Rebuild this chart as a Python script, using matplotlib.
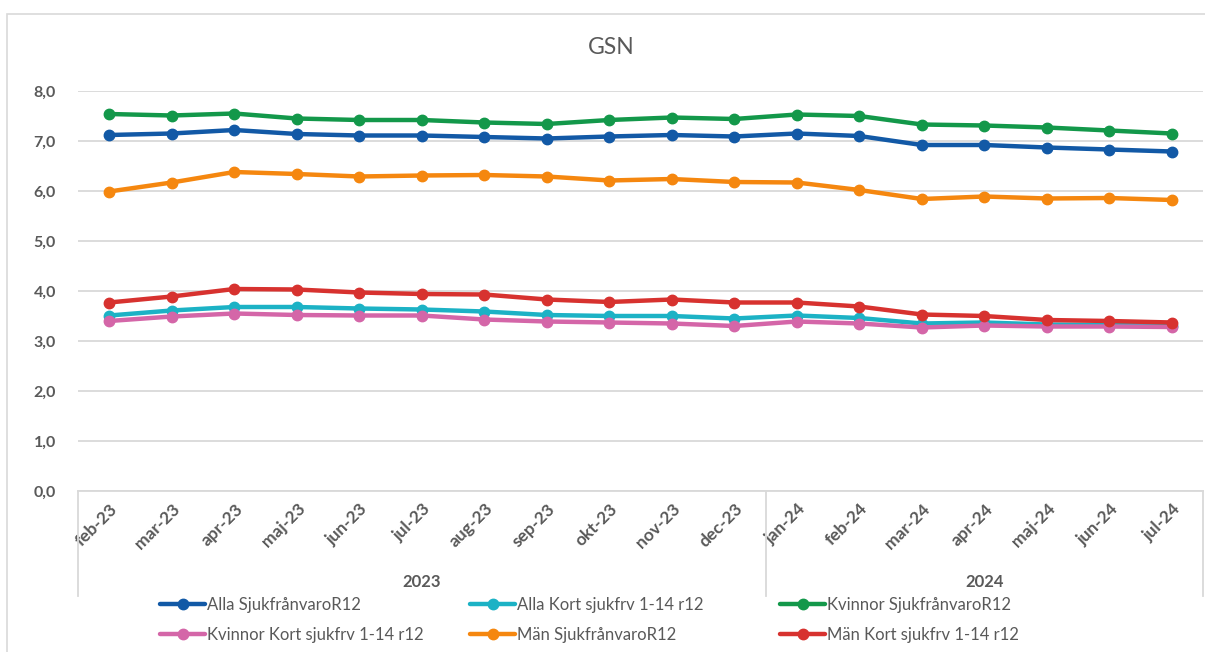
import matplotlib
matplotlib.use("Agg")
import matplotlib.pyplot as plt
import matplotlib.transforms as mtransforms
from matplotlib.patches import Rectangle


months = ["feb-23", "mar-23", "apr-23", "maj-23", "jun-23", "jul-23", "aug-23",
          "sep-23", "okt-23", "nov-23", "dec-23", "jan-24", "feb-24", "mar-24",
          "apr-24", "maj-24", "jun-24", "jul-24"]
years = ["2023", "2024"]
year_counts = [11, 7]

alla_sjuk = [7.12, 7.15, 7.22, 7.14, 7.11, 7.11, 7.08, 7.05, 7.09, 7.12, 7.09,
             7.15, 7.10, 6.92, 6.92, 6.87, 6.83, 6.79]
alla_kort = [3.51, 3.61, 3.68, 3.68, 3.65, 3.63, 3.59, 3.52, 3.50, 3.50, 3.45,
             3.51, 3.46, 3.35, 3.37, 3.33, 3.32, 3.31]
kvinnor_sjuk = [7.54, 7.51, 7.55, 7.45, 7.42, 7.42, 7.37, 7.34, 7.42, 7.47, 7.44,
                7.53, 7.50, 7.33, 7.31, 7.27, 7.21, 7.15]
kvinnor_kort = [3.40, 3.49, 3.55, 3.52, 3.51, 3.51, 3.43, 3.39, 3.37, 3.35, 3.30,
                3.39, 3.35, 3.27, 3.31, 3.29, 3.29, 3.28]
man_sjuk = [5.99, 6.17, 6.38, 6.34, 6.29, 6.31, 6.32, 6.29, 6.21, 6.24, 6.18,
            6.17, 6.02, 5.84, 5.89, 5.85, 5.86, 5.82]
man_kort = [3.77, 3.89, 4.04, 4.03, 3.97, 3.94, 3.93, 3.83, 3.78, 3.83, 3.77,
            3.77, 3.69, 3.53, 3.50, 3.42, 3.40, 3.37]

series = [
    ("Alla SjukfrånvaroR12", alla_sjuk, "#1259a6"),
    ("Alla Kort sjukfrv 1-14 r12", alla_kort, "#1cb2c5"),
    ("Kvinnor SjukfrånvaroR12", kvinnor_sjuk, "#13984a"),
    ("Kvinnor Kort sjukfrv 1-14 r12", kvinnor_kort, "#d466a8"),
    ("Män SjukfrånvaroR12", man_sjuk, "#f5870f"),
    ("Män Kort sjukfrv 1-14 r12", man_kort, "#d7322f"),
]

grey = "#595959"
plt.rcParams["font.family"] = ["Lato", "DejaVu Sans"]

W, H = 1205, 652
fig = plt.figure(figsize=(W / 100, H / 100), dpi=100)
fig.patches.append(Rectangle((7 / W, -0.1), 1.2, 1.1 - 14 / H, transform=fig.transFigure,
                             fill=False, ec="#d9d9d9", lw=1.2))

ax = fig.add_axes([78 / W, (H - 491) / H, 1125 / W, 400 / H])
x = list(range(len(months)))
handles = []
for name, vals, col in series:
    h, = ax.plot(x, vals, color=col, lw=3.2, marker="o", ms=7.5, label=name,
                 solid_capstyle="round")
    handles.append(h)

ax.set_xlim(-0.5, len(months) - 0.5)
ax.set_ylim(0, 8)
ax.set_yticks(range(0, 9))
ax.set_yticklabels(["%d,0" % v for v in range(0, 9)], fontsize=11.5,
                   fontweight="bold", color=grey)
ax.yaxis.grid(True, color="#d9d9d9", lw=1.3)
ax.set_axisbelow(True)
for s in ["top", "right", "left"]:
    ax.spines[s].set_visible(False)
ax.spines["bottom"].set_color("#d9d9d9")
ax.spines["bottom"].set_linewidth(1.3)
ax.tick_params(axis="both", length=0)
ax.tick_params(axis="y", pad=16)

ax.set_xticks(x)
ax.set_xticklabels(months, rotation=45, ha="right", va="center",
                   rotation_mode="anchor", fontsize=12.5, fontweight="bold", color=grey)
ax.tick_params(axis="x", pad=11)
off = mtransforms.ScaledTranslation(6 / 100, 0, fig.dpi_scale_trans)
for lab in ax.get_xticklabels():
    lab.set_transform(lab.get_transform() + off)

# year level of the category axis
trans = mtransforms.blended_transform_factory(ax.transData, ax.transAxes)
edges = [-0.5]
for c in year_counts:
    edges.append(edges[-1] + c)
for e in edges:
    ax.plot([e, e], [0, -105 / 400], transform=trans, color="#d9d9d9", lw=1.3,
            clip_on=False)
for i, yr in enumerate(years):
    ax.text((edges[i] + edges[i + 1]) / 2, -91 / 400, yr, transform=trans,
            ha="center", va="center", fontsize=12, fontweight="bold", color=grey)

fig.text(611 / W, 1 - 47 / H, "GSN", ha="center", va="center", fontsize=16.5,
         color=grey)

for col in range(3):
    leg = fig.legend([handles[col], handles[col + 3]],
                     [series[col][0], series[col + 3][0]],
                     loc="upper left", bbox_to_anchor=((160 + 310 * col) / W, 1 - 597 / H),
                     frameon=False, borderpad=0, borderaxespad=0, handlelength=2.7,
                     handletextpad=0.1, labelspacing=0.85, fontsize=12)
    for t in leg.get_texts():
        t.set_color(grey)

fig.savefig("out.png", dpi=100)
